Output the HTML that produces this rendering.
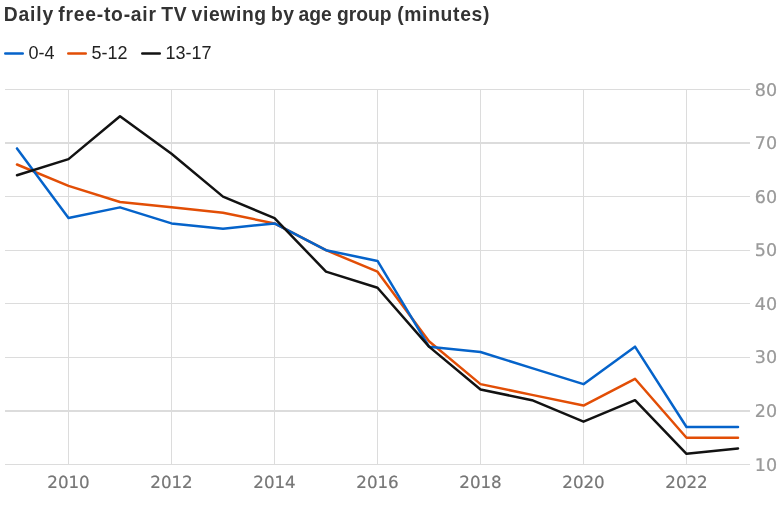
<!DOCTYPE html>
<html><head><meta charset="utf-8"><title>Daily free-to-air TV viewing by age group (minutes)</title>
<style>
html,body{margin:0;padding:0;background:#fff;}
body{width:783px;height:507px;overflow:hidden;position:relative;font-family:"Liberation Sans",sans-serif;}
h1{position:absolute;left:0;top:3px;margin:0;width:600px;height:24px;font-size:19.3px;line-height:24px;font-weight:bold;color:#333;white-space:nowrap;}
h1 span{position:absolute;top:0;}
.legend{position:absolute;left:0;top:41px;height:24px;font-size:18px;line-height:24px;color:#222;white-space:nowrap;}
.legend span.k{position:absolute;top:0;}
svg{position:absolute;left:0;top:0;}
.grid rect{fill:#dcdcdc;shape-rendering:crispEdges;}
.yl text{font-family:"DejaVu Sans",sans-serif;font-size:17.5px;text-rendering:geometricPrecision;fill:#999;stroke:#999;stroke-width:0.22px;}
.xl text{font-family:"DejaVu Sans",sans-serif;font-size:16.7px;text-rendering:geometricPrecision;fill:#767676;stroke:#767676;stroke-width:0.2px;}
polyline,.sw line{fill:none;stroke-width:2.5;stroke-linejoin:round;stroke-linecap:round;}
</style></head><body>
<h1><span style="left:3.7px;letter-spacing:0.85px">Daily</span> <span style="left:58.2px;letter-spacing:0.78px">free-to-air</span> <span style="left:161.3px;letter-spacing:0.80px">TV</span> <span style="left:191.6px;letter-spacing:0.64px">viewing</span> <span style="left:271.1px;letter-spacing:0.39px">by</span> <span style="left:298.4px;letter-spacing:0.05px">age</span> <span style="left:337.0px;letter-spacing:0.00px">group</span> <span style="left:397.2px;letter-spacing:0.68px">(minutes)</span></h1>
<div class="legend">
<span class="k" style="left:28.5px">0-4</span>
<span class="k" style="left:91.5px">5-12</span>
<span class="k" style="left:165.5px">13-17</span>
</div>
<svg width="783" height="507" viewBox="0 0 783 507">
<g class="grid">
<rect x="5" y="89" width="745" height="1"/>
<rect x="5" y="142" width="745" height="2"/>
<rect x="5" y="196" width="745" height="1"/>
<rect x="5" y="250" width="745" height="1"/>
<rect x="5" y="303" width="745" height="1"/>
<rect x="5" y="357" width="745" height="1"/>
<rect x="5" y="410" width="745" height="2"/>
<rect x="5" y="464" width="745" height="1"/>
<rect x="68" y="89" width="1" height="376"/>
<rect x="171" y="89" width="1" height="376"/>
<rect x="274" y="89" width="1" height="376"/>
<rect x="377" y="89" width="1" height="376"/>
<rect x="480" y="89" width="1" height="376"/>
<rect x="583" y="89" width="1" height="376"/>
<rect x="686" y="89" width="1" height="376"/>
</g>
<g class="yl">
<text x="754.8" y="95.50">80</text>
<text x="754.8" y="149.07">70</text>
<text x="754.8" y="202.64">60</text>
<text x="754.8" y="256.21">50</text>
<text x="754.8" y="309.79">40</text>
<text x="754.8" y="363.36">30</text>
<text x="754.8" y="416.93">20</text>
<text x="754.8" y="470.50">10</text>
</g>
<g class="xl">
<text x="68.50" y="487.5" text-anchor="middle">2010</text>
<text x="171.50" y="487.5" text-anchor="middle">2012</text>
<text x="274.50" y="487.5" text-anchor="middle">2014</text>
<text x="377.50" y="487.5" text-anchor="middle">2016</text>
<text x="480.50" y="487.5" text-anchor="middle">2018</text>
<text x="583.50" y="487.5" text-anchor="middle">2020</text>
<text x="686.50" y="487.5" text-anchor="middle">2022</text>
</g>
<g class="sw"><line x1="5.25" x2="22.75" y1="53.5" y2="53.5" stroke="#0563ca"/><line x1="68.25" x2="85.75" y1="53.5" y2="53.5" stroke="#e24e06"/><line x1="142.25" x2="159.75" y1="53.5" y2="53.5" stroke="#121212"/></g>
<polyline points="17.00,164.50 68.50,185.93 120.00,202.00 171.50,207.36 223.00,212.71 274.50,223.43 326.00,250.21 377.50,271.64 429.00,341.29 480.50,384.14 532.00,394.86 583.50,405.57 635.00,378.79 686.50,437.71 738.00,437.71" stroke="#e24e06"/>
<polyline points="17.00,148.43 68.50,218.07 120.00,207.36 171.50,223.43 223.00,228.79 274.50,223.43 326.00,250.21 377.50,260.93 429.00,346.64 480.50,352.00 532.00,368.07 583.50,384.14 635.00,346.64 686.50,427.00 738.00,427.00" stroke="#0563ca"/>
<polyline points="17.00,175.21 68.50,159.14 120.00,116.29 171.50,153.79 223.00,196.64 274.50,218.07 326.00,271.64 377.50,287.71 429.00,346.64 480.50,389.50 532.00,400.21 583.50,421.64 635.00,400.21 686.50,453.79 738.00,448.43" stroke="#121212"/>
</svg>
</body></html>
